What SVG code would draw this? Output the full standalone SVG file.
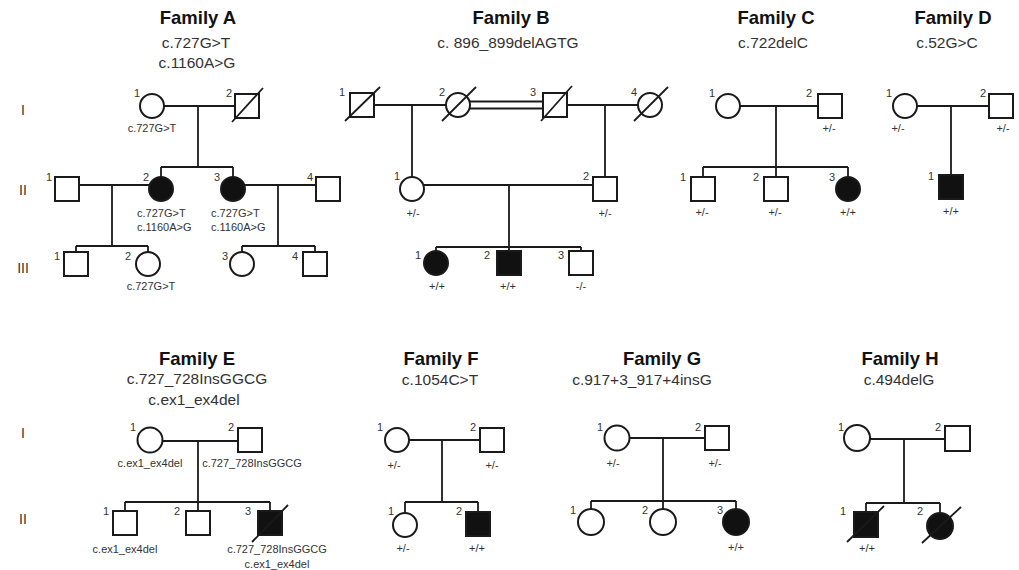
<svg xmlns="http://www.w3.org/2000/svg" width="1019" height="570" viewBox="0 0 1019 570">
<style>
.ln{stroke:#1a1a1a;stroke-width:1.8;fill:none}
.sh{stroke:#1a1a1a;stroke-width:2;fill:#fff}
.f{fill:#111}
.sl{stroke:#1a1a1a;stroke-width:1.8}
text{font-family:"Liberation Sans",Arial,sans-serif;fill:#222}
.t1{font-size:18.5px;font-weight:bold;text-anchor:middle;fill:#111}
.t2{font-size:15.5px;text-anchor:middle;fill:#333}
.sm{font-size:11px;fill:#333}
.c{text-anchor:middle}
.num{font-size:11px;fill:#333;text-anchor:middle}
.gen{font-size:14px;fill:#333;text-anchor:middle}
</style>
<rect width="1019" height="570" fill="#fff"/>
<g id="generation-labels">
<text class="gen" x="23" y="115">I</text>
<text class="gen" x="23" y="195">II</text>
<text class="gen" x="23" y="273">III</text>
<text class="gen" x="23" y="438">I</text>
<text class="gen" x="23" y="524">II</text>
</g>
<g id="titles">
<text class="t1" x="198" y="24">Family A</text>
<text class="t2" x="196" y="48">c.727G&gt;T</text>
<text class="t2" x="197" y="68">c.1160A&gt;G</text>
<text class="t1" x="511" y="24">Family B</text>
<text class="t2" x="508" y="48">c. 896_899delAGTG</text>
<text class="t1" x="776" y="24">Family C</text>
<text class="t2" x="773" y="48">c.722delC</text>
<text class="t1" x="953" y="24">Family D</text>
<text class="t2" x="947" y="48">c.52G&gt;C</text>
<text class="t1" x="197" y="365">Family E</text>
<text class="t2" x="197" y="384">c.727_728InsGGCG</text>
<text class="t2" x="194" y="405">c.ex1_ex4del</text>
<text class="t1" x="441" y="365">Family F</text>
<text class="t2" x="440" y="385">c.1054C&gt;T</text>
<text class="t1" x="662" y="365">Family G</text>
<text class="t2" x="642" y="385">c.917+3_917+4insG</text>
<text class="t1" x="900" y="365">Family H</text>
<text class="t2" x="899" y="385">c.494delG</text>
</g>
<g id="connectors">
<path class="ln" d="M164 106H235M198 106V167M161 167H233M161 167V177M233 167V177"/>
<path class="ln" d="M79 185H150M112 185V246M76 246H148M76 246V252M148 246V252"/>
<path class="ln" d="M245 185H316M278 185V246M242 246H315M242 246V252M315 246V252"/>
<path class="ln" d="M374 105H446M412 105V177"/>
<path class="ln" d="M469 101.5H543M469 108.5H543"/>
<path class="ln" d="M567 105H638M605 105V177"/>
<path class="ln" d="M424 185H593M509 185V247M436 247H581M436 247V251M509 247V251M581 247V251"/>
<path class="ln" d="M740 106H818M776 106V167M703 167H848M703 167V177M776 167V177M848 167V177"/>
<path class="ln" d="M917 106H989M951 106V175"/>
<path class="ln" d="M163 441H238M198 441V502M125 502H270M125 502V511M198 502V511M270 502V511"/>
<path class="ln" d="M409 440H480M442 440V502M405 502H478M405 502V513M478 502V512"/>
<path class="ln" d="M630 438H705M663 438V501M591 501H736M591 501V509M663 501V509M736 501V509"/>
<path class="ln" d="M870 439H945M904 439V503M866 503H940M866 503V512M940 503V513"/>
</g>
<g id="famA-I-1"><circle class="sh" cx="152" cy="106" r="12"/><text class="num" x="137" y="97">1</text><text class="sm c" x="152" y="132">c.727G&gt;T</text></g>
<g id="famA-I-2"><rect class="sh" x="235" y="94" width="24" height="24"/><line class="sl" x1="232" y1="122" x2="263" y2="88"/><text class="num" x="229" y="97">2</text></g>
<g id="famA-II-1"><rect class="sh" x="55" y="177" width="24" height="24"/><text class="num" x="49" y="181">1</text></g>
<g id="famA-II-2"><circle class="sh f" cx="161" cy="189" r="12"/><text class="num" x="146" y="181">2</text><text class="sm" x="137" y="217">c.727G&gt;T</text><text class="sm" x="137" y="231">c.1160A&gt;G</text></g>
<g id="famA-II-3"><circle class="sh f" cx="233" cy="189" r="12"/><text class="num" x="217" y="181">3</text><text class="sm" x="211" y="217">c.727G&gt;T</text><text class="sm" x="211" y="231">c.1160A&gt;G</text></g>
<g id="famA-II-4"><rect class="sh" x="316" y="177" width="24" height="24"/><text class="num" x="310" y="181">4</text></g>
<g id="famA-III-1"><rect class="sh" x="64" y="252" width="24" height="24"/><text class="num" x="57" y="260">1</text></g>
<g id="famA-III-2"><circle class="sh" cx="148" cy="264" r="12"/><text class="num" x="128" y="260">2</text><text class="sm c" x="151" y="290">c.727G&gt;T</text></g>
<g id="famA-III-3"><circle class="sh" cx="242" cy="264" r="12"/><text class="num" x="225" y="260">3</text></g>
<g id="famA-III-4"><rect class="sh" x="303" y="252" width="24" height="24"/><text class="num" x="295" y="260">4</text></g>

<g id="famB-I-1"><rect class="sh" x="350" y="93" width="24" height="24"/><line class="sl" x1="345" y1="121" x2="380" y2="87"/><text class="num" x="342" y="96">1</text></g>
<g id="famB-I-2"><circle class="sh" cx="458" cy="105" r="12"/><line class="sl" x1="442" y1="121" x2="476" y2="87"/><text class="num" x="442" y="96">2</text></g>
<g id="famB-I-3"><rect class="sh" x="543" y="93" width="24" height="24"/><line class="sl" x1="541" y1="121" x2="572" y2="86"/><text class="num" x="533" y="96">3</text></g>
<g id="famB-I-4"><circle class="sh" cx="650" cy="105" r="12"/><line class="sl" x1="634" y1="121" x2="668" y2="87"/><text class="num" x="634" y="96">4</text></g>
<g id="famB-II-1"><circle class="sh" cx="412" cy="189" r="12"/><text class="num" x="397" y="180">1</text><text class="sm c" x="413" y="217">+/-</text></g>
<g id="famB-II-2"><rect class="sh" x="593" y="177" width="24" height="24"/><text class="num" x="586" y="180">2</text><text class="sm c" x="605" y="217">+/-</text></g>
<g id="famB-III-1"><circle class="sh f" cx="436" cy="263" r="12"/><text class="num" x="418" y="259">1</text><text class="sm c" x="437" y="290">+/+</text></g>
<g id="famB-III-2"><rect class="sh f" x="497" y="251" width="24" height="24"/><text class="num" x="487" y="259">2</text><text class="sm c" x="508" y="290">+/+</text></g>
<g id="famB-III-3"><rect class="sh" x="569" y="251" width="24" height="24"/><text class="num" x="561" y="259">3</text><text class="sm c" x="581" y="290">-/-</text></g>

<g id="famC-I-1"><circle class="sh" cx="728" cy="106" r="12"/><text class="num" x="712" y="97">1</text></g>
<g id="famC-I-2"><rect class="sh" x="818" y="94" width="24" height="24"/><text class="num" x="809" y="97">2</text><text class="sm c" x="829" y="132">+/-</text></g>
<g id="famC-II-1"><rect class="sh" x="691" y="177" width="24" height="24"/><text class="num" x="683" y="181">1</text><text class="sm c" x="702" y="216">+/-</text></g>
<g id="famC-II-2"><rect class="sh" x="764" y="177" width="24" height="24"/><text class="num" x="756" y="181">2</text><text class="sm c" x="775" y="216">+/-</text></g>
<g id="famC-II-3"><circle class="sh f" cx="848" cy="189" r="12"/><text class="num" x="832" y="181">3</text><text class="sm c" x="848" y="216">+/+</text></g>

<g id="famD-I-1"><circle class="sh" cx="905" cy="106" r="12"/><text class="num" x="889" y="97">1</text><text class="sm c" x="898" y="132">+/-</text></g>
<g id="famD-I-2"><rect class="sh" x="989" y="94" width="24" height="24"/><text class="num" x="983" y="97">2</text><text class="sm c" x="1003" y="132">+/-</text></g>
<g id="famD-II-1"><rect class="sh f" x="939" y="175" width="24" height="24"/><text class="num" x="931" y="180">1</text><text class="sm c" x="951" y="215">+/+</text></g>

<g id="famE-I-1"><circle class="sh" cx="150" cy="440" r="12.5"/><text class="num" x="133" y="431">1</text><text class="sm c" x="150" y="467">c.ex1_ex4del</text></g>
<g id="famE-I-2"><rect class="sh" x="238" y="428" width="24" height="24"/><text class="num" x="231" y="431">2</text><text class="sm c" x="252" y="467">c.727_728InsGGCG</text></g>
<g id="famE-II-1"><rect class="sh" x="113" y="511" width="24" height="24"/><text class="num" x="106" y="515">1</text><text class="sm c" x="125" y="553">c.ex1_ex4del</text></g>
<g id="famE-II-2"><rect class="sh" x="186" y="511" width="24" height="24"/><text class="num" x="177" y="515">2</text></g>
<g id="famE-II-3"><rect class="sh f" x="258" y="511" width="24" height="24"/><line class="sl" x1="252" y1="542" x2="288" y2="505"/><text class="num" x="248" y="515">3</text><text class="sm c" x="277" y="553">c.727_728InsGGCG</text><text class="sm c" x="277" y="568">c.ex1_ex4del</text></g>

<g id="famF-I-1"><circle class="sh" cx="397" cy="440" r="12"/><text class="num" x="380" y="431">1</text><text class="sm c" x="394" y="469">+/-</text></g>
<g id="famF-I-2"><rect class="sh" x="480" y="428" width="24" height="24"/><text class="num" x="473" y="431">2</text><text class="sm c" x="492" y="469">+/-</text></g>
<g id="famF-II-1"><circle class="sh" cx="405" cy="525" r="12"/><text class="num" x="391" y="515">1</text><text class="sm c" x="403" y="552">+/-</text></g>
<g id="famF-II-2"><rect class="sh f" x="466" y="512" width="24" height="24"/><text class="num" x="459" y="515">2</text><text class="sm c" x="477" y="552">+/+</text></g>

<g id="famG-I-1"><circle class="sh" cx="617" cy="438" r="12.5"/><text class="num" x="600" y="431">1</text><text class="sm c" x="613" y="467">+/-</text></g>
<g id="famG-I-2"><rect class="sh" x="705" y="426" width="24" height="24"/><text class="num" x="698" y="431">2</text><text class="sm c" x="715" y="467">+/-</text></g>
<g id="famG-II-1"><circle class="sh" cx="591" cy="522" r="13"/><text class="num" x="573" y="514">1</text></g>
<g id="famG-II-2"><circle class="sh" cx="663" cy="522" r="13"/><text class="num" x="645" y="514">2</text></g>
<g id="famG-II-3"><circle class="sh f" cx="736" cy="522" r="13"/><text class="num" x="720" y="514">3</text><text class="sm c" x="736" y="551">+/+</text></g>

<g id="famH-I-1"><circle class="sh" cx="857" cy="438" r="13"/><text class="num" x="841" y="431">1</text></g>
<g id="famH-I-2"><rect class="sh" x="945" y="426" width="25" height="25"/><text class="num" x="938" y="431">2</text></g>
<g id="famH-II-1"><rect class="sh f" x="854" y="512" width="24" height="25"/><line class="sl" x1="847" y1="542" x2="884" y2="506"/><text class="num" x="843" y="515">1</text><text class="sm c" x="867" y="552">+/+</text></g>
<g id="famH-II-2"><circle class="sh f" cx="940" cy="526" r="13"/><line class="sl" x1="922" y1="543" x2="961" y2="507"/><text class="num" x="920" y="515">2</text></g>
</svg>
